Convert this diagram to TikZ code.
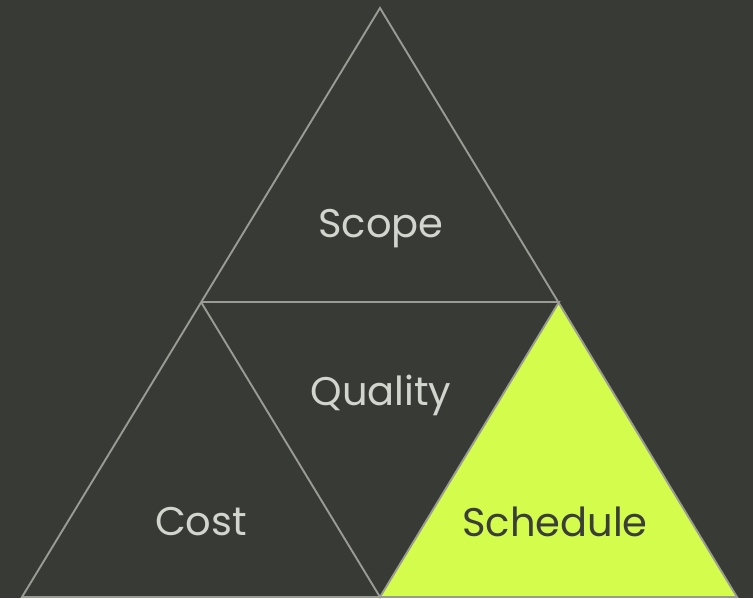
\documentclass[tikz,border=0pt]{standalone}
\usepackage{fontspec}
\setmainfont{Poppins}
\definecolor{bgdark}{HTML}{373A35}
\definecolor{edgegrey}{HTML}{9A9B95}
\definecolor{labelgrey}{HTML}{D2D4CE}
\definecolor{lime}{HTML}{D4FC4C}
\definecolor{darktext}{HTML}{3A3D38}
\begin{document}
\begin{tikzpicture}[x=1pt, y=-1pt,
    edge/.style={draw=edgegrey, line width=1.9pt, line join=miter},
    label/.style={font=\fontsize{40}{46}\selectfont, text=labelgrey}]
            \fill[bgdark] (0,0) rectangle (753,598);
            \useasboundingbox (0,0) rectangle (753,598);

            \coordinate (top) at (380,8);
            \coordinate (bl) at (22,597);
            \coordinate (br) at (737,597);
            \coordinate (ml) at (201,302);
            \coordinate (mr) at (559,302);
            \coordinate (mb) at (380,597);

            \fill[lime] (mr) -- (br) -- (mb) -- cycle;
            \draw[edge] (top) -- (br) -- (bl) -- cycle;
            \draw[edge] (ml) -- (mr) -- (mb) -- (ml);

            \node (scope) at (381,229) [label] {Scope};
            \node (quality) at (381,395) [label] {Quality};
            \node (cost) at (201,522) [label] {Cost};
            \node (schedule) at (555,522) [label, text=darktext] {Schedule};
\end{tikzpicture}
\end{document}
